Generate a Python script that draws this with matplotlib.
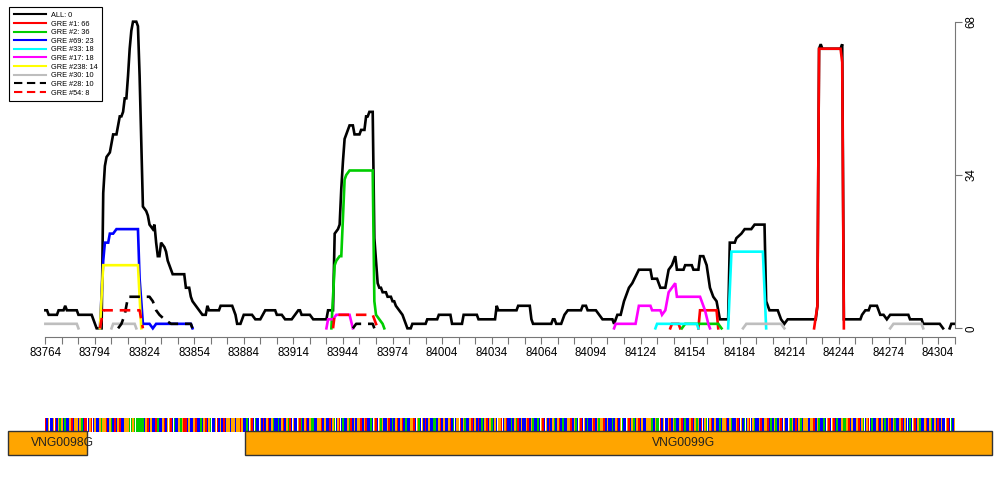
import numpy as np
import matplotlib
matplotlib.use("Agg")
import matplotlib.pyplot as plt
from matplotlib.lines import Line2D
from matplotlib.patches import Rectangle

plt.rcParams['font.family'] = ['Liberation Sans', 'DejaVu Sans']
nan = np.nan

#-------------------------------------------- profiles (position, count)
all_pts = [(83764,4),(83765,4),(83766,3),(83771,3),(83772,4),(83775,4),(83776,5),(83777,4),(83783,4),(83784,3),
    (83792,3),(83793,2),(83795,0),(83798,0),(83799,30),(83800,36),(83801,38),(83803,39),(83804,41),(83805,43),
    (83807,43),(83808,45),(83809,47),(83810,47),(83811,48),(83812,51),(83813,51),(83814,56),(83815,62),(83816,66),
    (83817,68),(83819,68),(83820,67),(83821,56),(83822,41),(83823,27),(83825,26),(83826,25),(83827,23),(83829,22),
    (83830,23),(83831,19),(83832,16),(83833,16),(83834,19),(83836,18),(83837,17),(83838,15),(83839,14),(83841,12),
    (83848,12),(83849,9),(83851,9),(83852,7),(83853,6),(83855,5),(83857,4),(83859,3),(83861,3),(83862,5),
    (83863,4),(83869,4),(83870,5),(83877,5),(83879,3),(83880,1),(83882,1),(83884,3),(83889,3),(83891,2),
    (83894,2),(83897,4),(83903,4),(83904,3),(83907,3),(83909,2),(83913,2),(83915,3),(83917,4),(83918,4),
    (83919,3),(83924,3),(83926,2),(83934,2),(83935,4),(83938,4),(83939,21),(83941,22),(83942,23),(83943,31),
    (83944,37),(83945,42),(83946,43),(83948,45),(83950,45),(83951,43),(83954,43),(83955,44),(83957,44),(83958,47),
    (83959,47),(83960,48),(83962,48),(83963,20),(83965,10),(83966,9),(83967,9),(83968,8),(83970,8),(83971,7),
    (83973,7),(83974,6),(83975,6),(83976,5),(83978,4),(83980,3),(83982,1),(83983,0),(83985,0),(83986,1),
    (83994,1),(83995,2),(84001,2),(84002,3),(84009,3),(84010,1),(84016,1),(84017,3),(84025,3),(84026,2),
    (84036,2),(84037,5),(84038,4),(84049,4),(84050,5),(84057,5),(84058,2),(84059,1),(84070,1),(84071,2),
    (84072,2),(84073,1),(84076,1),(84078,3),(84080,4),(84088,4),(84089,5),(84091,5),(84092,4),(84097,4),
    (84099,3),(84101,2),(84107,2),(84108,1),(84110,3),(84112,3),(84114,6),(84117,9),(84119,10),(84123,13),
    (84130,13),(84131,11),(84134,11),(84136,9),(84139,9),(84141,13),(84143,14),(84145,16),(84146,13),(84150,13),
    (84151,14),(84155,14),(84156,13),(84159,13),(84160,16),(84162,16),(84164,14),(84166,9),(84168,7),(84170,6),
    (84171,4),(84172,2),(84177,2),(84178,19),(84181,19),(84182,20),(84185,21),(84187,22),(84191,22),(84193,23),
    (84199,23),(84200,6),(84202,4),(84207,4),(84209,2),(84211,1),(84213,2),(84230,2),(84231,5),(84232,62),
    (84233,63),(84234,62),(84245,62),(84246,63),(84247,2),(84257,2),(84258,3),(84260,4),(84262,4),(84263,5),
    (84267,5),(84269,3),(84271,3),(84273,2),(84275,3),(84286,3),(84287,2),(84294,2),(84295,1),(84305,1),
    (84307,0),(84309,nan),(84311,0),(84312,1),(84314,1)]
gre1_pts = [(84142,0),(84143,1),(84147,1),(84148,0),(84150,nan),(84159,0),(84160,4),(84170,4),(84171,0),(84200,nan),
    (84229,0),(84231,5),(84232,62),(84245,62),(84246,59),(84247,0)]
gre2_pts = [(83937,0),(83939,14),(83940,15),(83942,16),(83943,16),(83945,33),(83946,34),(83948,35),(83962,35),(83963,6),
    (83964,3),(83966,2),(83968,1),(83969,0),(84000,nan),(84149,0),(84151,1),(84171,1),(84173,0)]
gre69_pts = [(83797,0),(83799,15),(83800,19),(83802,19),(83803,21),(83805,21),(83807,22),(83820,22),(83821,11),(83823,1),
    (83827,1),(83829,0),(83831,1),(83852,1),(83853,0)]
gre33_pts = [(84133,0),(84134,1),(84158,1),(84159,0),(84165,nan),(84177,0),(84179,17),(84198,17),(84200,0)]
gre17_pts = [(83934,0),(83935,2),(83938,2),(83940,3),(83948,3),(83950,0),(84000,nan),(84108,0),(84109,1),(84121,1),
    (84123,5),(84130,5),(84131,4),(84136,4),(84137,3),(84139,4),(84141,8),(84143,9),(84145,10),(84146,7),
    (84160,7),(84161,6),(84163,4),(84165,1),(84166,0)]
gre238_pts = [(83797,0),(83799,14),(83820,14),(83822,0)]
gre30_pts = [(83764,1),(83783,1),(83784,0),(83790,nan),(83804,0),(83805,1),(83818,1),(83819,0),(83900,nan),
    (84186,0),(84188,1),(84209,1),(84211,0),(84250,nan),(84275,0),(84277,1),(84294,1),(84295,0)]
gre28_pts = [(83808,0),(83810,1),(83812,3),(83814,7),(83827,7),(83829,6),(83831,4),(83833,3),(83836,2),(83840,1),
    (83852,1),(83853,0),(83900,nan),(83950,0),(83952,1),(83962,1),(83963,0)]
gre54_pts = [(83797,0),(83799,4),(83821,4),(83823,0),(83900,nan),(83938,0),(83939,3),(83962,3),(83965,0)]

series_labels = ["ALL: 0", "GRE #1: 66", "GRE #2: 36", "GRE #69: 23", "GRE #33: 18", "GRE #17: 18",
                 "GRE #238: 14", "GRE #30: 10", "GRE #28: 10", "GRE #54: 8"]
series_pts = [all_pts, gre1_pts, gre2_pts, gre69_pts, gre33_pts, gre17_pts, gre238_pts, gre30_pts, gre28_pts, gre54_pts]
series_colors = ["black", "#FF0000", "#00CD00", "#0000FF", "#00FFFF", "#FF00FF", "#FFFF00", "#BEBEBE", "black", "#FF0000"]
series_dashed = [False]*8 + [True, True]

#-------------------------------------------- sequence and genes
seq = ("TCGCCGTCGAGCACCGTCGGCGACTTCGTCGCCGAGGTCGACTCGTCCGG"
       "GAAGAAAAAACGTCGCCTACCGTCGGTCACCGAGTTCGCCGTCCACGTCG"
       "ACCGTCGCTCGGCGGCGGTGCCACGTCACCGCTCGTCGACCACGTCGATC"
       "GCCGTACGTCGAACCGGTCGCCTCGACGTCACCGATCGCGGTCGTCCACG"
       "TCGAGCCGTCACGTCGTCACCGGTCGACGCTCGCCAACGTCGCCGTCACG"
       "GTCGACCGTCGCTCACGTCGACGCGGTCGTCCACGATCGCCGTCGACCAC"
       "GTCGCTCGACGTCACCGGTCGACGTCGCACCGTCGAGGTCGCCACGTCGA"
       "CCGTCGACGTCGCCGGGACGAATCGCCGTCGACCGTCACCGTCGAGCTCG"
       "ACGTCGCCACGGTCGACCGTCGCACGTCGACCGTCGGTCACGACGTCGCC"
       "GAGCTCGACGGGCGGTCGACCACGTCGTCACCGAAGTCGCCGTCGACGTC"
       "ACCGTCGCACGTCGACCGTCGCCACGTCGACCGTCGACGCTCGCCGTCACG")
seq_start = 83764
base_colors = {"A": "#00CC00", "C": "#0000FF", "G": "#FFA500", "T": "#FF0000"}

gene_names = ["VNG0098G", "VNG0099G"]
gene_starts = [83741.6, 83884.8]
gene_ends = [83789.2, 84336.6]
gene_label_x = [83774.1, 84150.3]

xticks_lab = np.arange(83764, 84305, 30)
xticks_all = np.arange(83764, 84315, 10)
yticks = [0, 34, 68]

#-------------------------------------------- main profile panel
fig = plt.figure(figsize=(10, 5), dpi=100)
ax = fig.add_axes([0.009, 0.3188, 0.982, 0.6624])
ax.set_xlim(83742, 84336)
ax.set_ylim(-2.72, 70.72)

handles = []
for pts, lab, col, dash in zip(series_pts, series_labels, series_colors, series_dashed):
    x, y = np.array(pts, dtype=float).T
    kw = dict(color=col, lw=1.9, solid_joinstyle='miter')
    if dash:
        kw['dashes'] = (4, 2.6)
    ax.plot(x, y, **kw)
    hk = dict(color=col, lw=1.5)
    if dash:
        hk['dashes'] = (4, 2.2)
    handles.append(Line2D([], [], **hk))

for s in ['top', 'left']:
    ax.spines[s].set_visible(False)
axcol = '#777777'
ax.spines['bottom'].set_position(('data', -1.93))
ax.spines['bottom'].set_bounds(83764, 84314)
ax.spines['right'].set_position(('data', 84314))
ax.spines['right'].set_bounds(0, 68)
for s in ['bottom', 'right']:
    ax.spines[s].set_color(axcol)
    ax.spines[s].set_linewidth(0.8)

ax.set_xticks(xticks_all)
ax.set_xticklabels([str(t) if t in xticks_lab else "" for t in xticks_all])
ax.yaxis.tick_right()
ax.set_yticks(yticks)
ax.set_yticklabels([str(t) for t in yticks], rotation=90, va='center')
ax.tick_params(axis='x', direction='out', length=5, width=0.8, color=axcol, pad=2, labelsize=8.3)
ax.tick_params(axis='y', direction='out', length=5, width=0.8, color=axcol, pad=3, labelsize=8.3)

leg = ax.legend(handles, series_labels, loc='upper left', bbox_to_anchor=(0.009, 0.986),
                bbox_transform=fig.transFigure, borderaxespad=0, fontsize=5.3,
                handlelength=4.4, handletextpad=0.6, labelspacing=0.2, borderpad=0.65,
                fancybox=False, framealpha=1, edgecolor='black')
leg.get_frame().set_linewidth(0.8)

#-------------------------------------------- sequence + gene track
ax2 = fig.add_axes([0.009, 0.06, 0.982, 0.14])
ax2.set_xlim(83742, 84336)
ax2.set_ylim(0, 70)
ax2.axis('off')

pos = seq_start + np.arange(len(seq))
ax2.bar(pos, 13.4, bottom=38.3, width=0.95, color=[base_colors[b] for b in seq], linewidth=0)

for name, g0, g1, lx in zip(gene_names, gene_starts, gene_ends, gene_label_x):
    ax2.add_patch(Rectangle((g0, 14.7), g1 - g0, 24.6, facecolor='#FFA500', edgecolor='#333333', lw=1, clip_on=False))
    ax2.text(lx, 26.7, name, ha='center', va='center', fontsize=8.7, color='#222222')

fig.savefig("out.png", dpi=100)
